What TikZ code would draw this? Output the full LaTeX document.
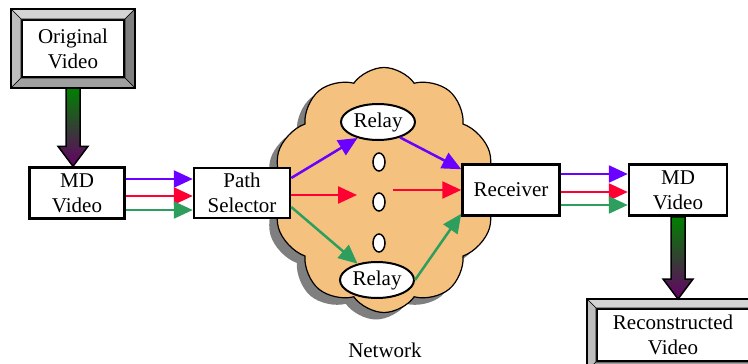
\documentclass[tikz,border=0pt]{standalone}
\usepackage{fontspec}
\setmainfont{Liberation Serif}
\usetikzlibrary{shapes.geometric, shapes.symbols, arrows.meta}

\definecolor{linkpurple}{HTML}{6A00FF}
\definecolor{linkred}{HTML}{FF0033}
\definecolor{linkgreen}{HTML}{2E9E5E}
\definecolor{fatgreen}{HTML}{008000}
\definecolor{fatpurple}{HTML}{660066}
\definecolor{cloudfill}{HTML}{F4C27E}
\definecolor{bevlight}{HTML}{D4D4D4}
\definecolor{bevside}{HTML}{BDBDBD}
\definecolor{bevdark}{HTML}{7F7F7F}
\definecolor{bevbottom}{HTML}{A0A0A0}

\tikzset{
  blockbox/.style={draw, line width=2.5pt, fill=white, align=center, inner sep=0pt},
  framebox/.style={draw, line width=2pt, fill=white, align=center, inner sep=0pt},
  relaynode/.style={ellipse, draw, line width=2pt, fill=white, inner sep=0pt,
                    minimum width=74pt, minimum height=36pt},
  dotnode/.style={ellipse, draw, line width=1.5pt, fill=white, inner sep=0pt,
                  minimum width=12pt, minimum height=18pt},
  netcloud/.style={cloud, cloud puffs=10, cloud puff arc=110, aspect=0.9,
                   minimum width=222pt, minimum height=245pt},
  link/.style={line width=2.5pt, -{Triangle[length=19pt,width=17pt]}},
}

% bevelled frame round a node
\newcommand{\bevel}[2]{%
  \filldraw[bevlight, draw=black, line width=0.6pt]
    ([shift={(-#2,#2)}]#1.north west) -- ([shift={(#2,#2)}]#1.north east)
    -- (#1.north east) -- (#1.north west) -- cycle;
  \filldraw[bevside, draw=black, line width=0.6pt]
    ([shift={(-#2,#2)}]#1.north west) -- (#1.north west)
    -- (#1.south west) -- ([shift={(-#2,-#2)}]#1.south west) -- cycle;
  \filldraw[bevdark, draw=black, line width=0.6pt]
    ([shift={(#2,#2)}]#1.north east) -- ([shift={(#2,-#2)}]#1.south east)
    -- (#1.south east) -- (#1.north east) -- cycle;
  \filldraw[bevbottom, draw=black, line width=0.6pt]
    ([shift={(-#2,-#2)}]#1.south west) -- (#1.south west)
    -- (#1.south east) -- ([shift={(#2,-#2)}]#1.south east) -- cycle;
  \draw[line width=2.5pt] ([shift={(-#2,#2)}]#1.north west)
    rectangle ([shift={(#2,-#2)}]#1.south east);
}

% thick shaded arrow from #1 down to the tip #2
\newcommand{\fatarrow}[2]{%
  \shade[top color=fatgreen, bottom color=fatpurple, draw=black, line width=1.5pt]
    ([xshift=-7pt]#1) -- ([xshift=-7pt,yshift=20pt]#2)
    -- ([xshift=-15pt,yshift=20pt]#2) -- (#2)
    -- ([xshift=15pt,yshift=20pt]#2) -- ([xshift=7pt,yshift=20pt]#2)
    -- ([xshift=7pt]#1) -- cycle;
}

\begin{document}
\begin{tikzpicture}[x=1pt, y=-1pt, font=\fontsize{21}{25}\selectfont]
    \useasboundingbox (0,0) rectangle (748,364);
    \clip (0,0) rectangle (748,364);

    % network cloud
    \node[netcloud, fill=bevdark] (cloudshadow) at (376,197) {};
    \node[netcloud, draw, line width=1.2pt, fill=cloudfill] (cloud) at (384,190) {};
    \node (net) at (385,350) {Network};

    % boxes
    \node[framebox, minimum width=102pt, minimum height=57pt] (orig) at (73,48.5) {Original\\Video};
    \bevel{orig}{10pt}
    \node[blockbox, minimum width=95pt, minimum height=51pt] (mdin) at (77,193) {MD\\Video};
    \node[blockbox, minimum width=96pt, minimum height=50pt] (sel) at (242,193) {Path\\Selector};
    \node[blockbox, minimum width=97pt, minimum height=51pt] (rcv) at (511,190) {Receiver};
    \node[blockbox, minimum width=98pt, minimum height=51pt] (mdout) at (678,190) {MD\\Video};
    \node[framebox, minimum width=152pt, minimum height=52pt] (recon) at (673,335) {Reconstructed\\Video};
    \bevel{recon}{9pt}

    \node[relaynode] (relayA) at (378,122) {Relay};
    \node[relaynode] (relayB) at (377,280) {Relay};
    \node[dotnode] (dot1) at (379,162) {};
    \node[dotnode] (dot2) at (379,202) {};
    \node[dotnode] (dot3) at (379,243) {};

    % thick arrows
    \coordinate (origbot) at ([yshift=-10pt]orig.south);
    \coordinate (tipA) at (origbot |- mdin.north);
    \fatarrow{origbot}{tipA}
    \coordinate (recontop) at ([yshift=9pt]recon.north);
    \coordinate (tipB) at (mdout.south |- recontop);
    \fatarrow{mdout.south}{tipB}

    % MD video to path selector
    \draw[link, linkpurple] ([yshift=14pt]mdin.east) -- ([yshift=14pt]sel.west);
    \draw[link, linkred] ([yshift=-3pt]mdin.east) -- ([yshift=-3pt]sel.west);
    \draw[link, linkgreen] ([yshift=-17pt]mdin.east) -- ([yshift=-17pt]sel.west);

    % paths through the network
    \coordinate (gapL) at (357,195);
    \coordinate (gapR) at (393,190);
    \draw[link, linkpurple] ([yshift=15pt]sel.east) -- (relayA.218);
    \draw[link, linkred] ([yshift=-2pt]sel.east) -- (gapL);
    \draw[link, linkgreen] ([yshift=-14pt]sel.east) -- (relayB.140);
    \draw[link, linkpurple] (relayA.-35) -- ([yshift=-6pt]rcv.north west);
    \draw[link, linkred] (gapR) -- (rcv.west);
    \draw[link, linkgreen] (relayB.east) -- ([yshift=3pt]rcv.south west);

    % receiver to MD video
    \draw[link, linkpurple] ([yshift=16pt]rcv.east) -- ([yshift=16pt]mdout.west);
    \draw[link, linkred] ([yshift=-2pt]rcv.east) -- ([yshift=-2pt]mdout.west);
    \draw[link, linkgreen] ([yshift=-15pt]rcv.east) -- ([yshift=-15pt]mdout.west);
\end{tikzpicture}
\end{document}
